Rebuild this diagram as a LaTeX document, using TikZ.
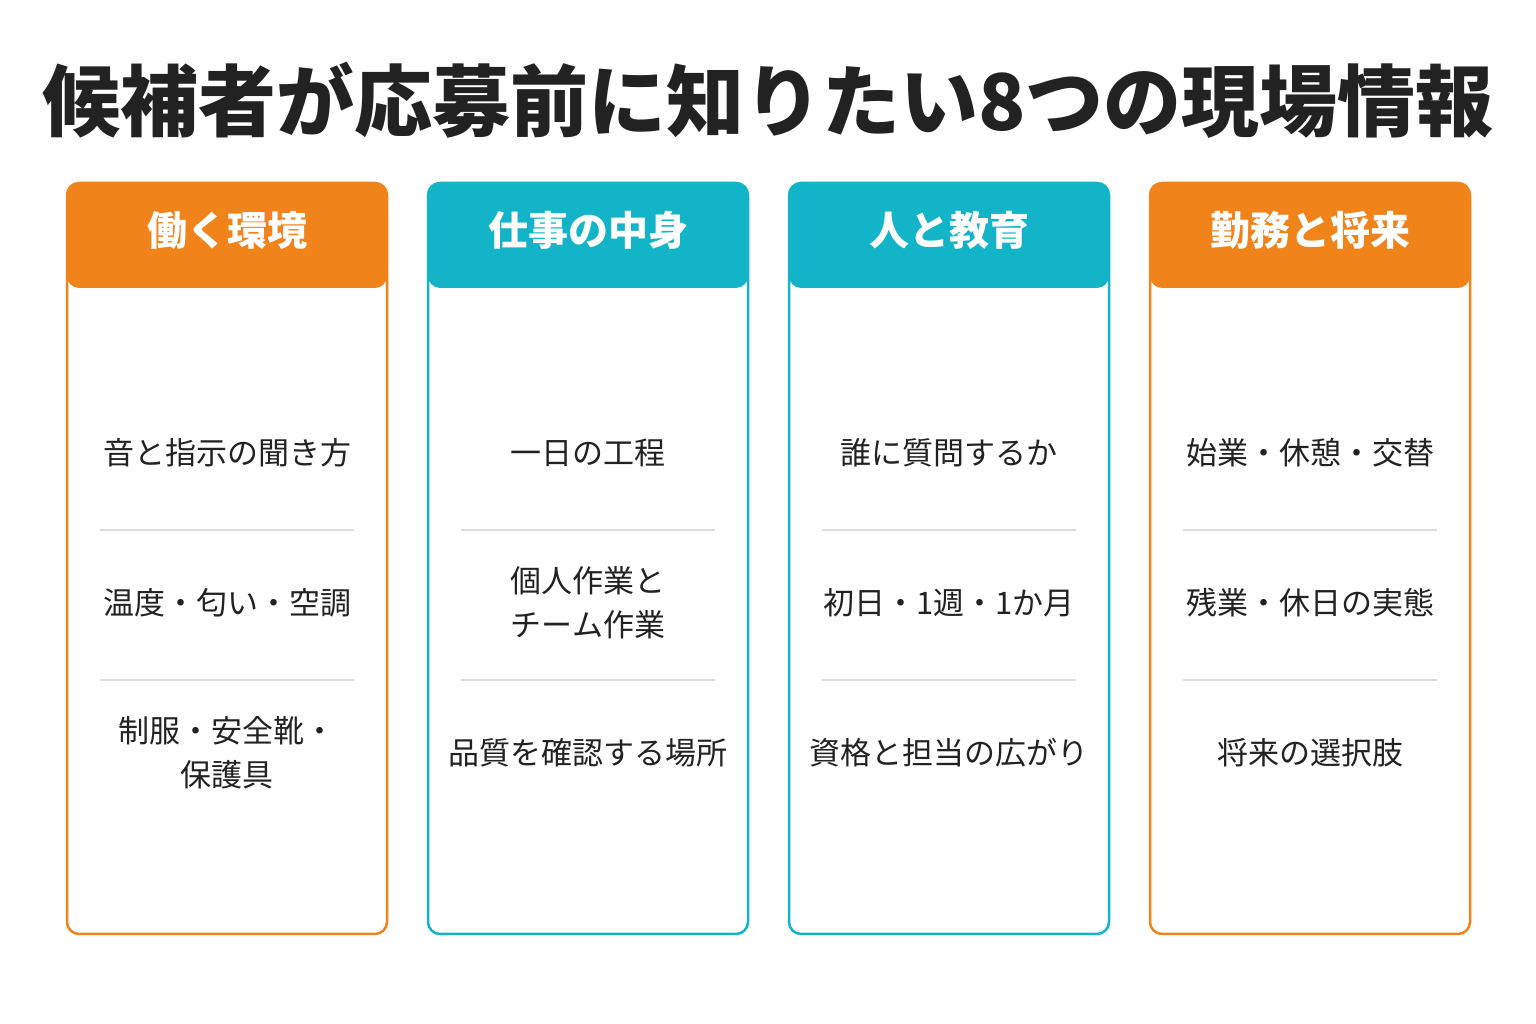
\documentclass[tikz,border=0pt]{standalone}
\usepackage{fontspec}
\setmainfont{Noto Sans CJK JP}
\definecolor{orangeH}{HTML}{F0831A}
\definecolor{tealH}{HTML}{14B4C8}
\definecolor{lineG}{HTML}{DDDDDD}
\definecolor{textD}{HTML}{222222}
\tikzset{
  card/.style={draw=#1, line width=2.5pt, rounded corners=12pt, fill=white},
  head/.style={fill=#1, rounded corners=12pt},
  headtext/.style={text=white, font=\fontsize{40}{48}\selectfont\bfseries},
  item/.style={text=textD, align=center, font=\fontsize{31}{44}\selectfont},
  sep/.style={draw=lineG, line width=1.5pt}
}
\begin{document}
\begin{tikzpicture}[x=1pt,y=1pt]
  \useasboundingbox (0,0) rectangle (1536,1024);
  \node[text=textD, font=\fontsize{78}{90}\selectfont\bfseries] (title) at (768,924) {候補者が応募前に知りたい8つの現場情報};
  \foreach \i/\x/\c/\h/\a/\b/\d in {
    1/67/orangeH/働く環境/音と指示の聞き方/温度・匂い・空調/{制服・安全靴・\\保護具},
    2/428/tealH/仕事の中身/一日の工程/{個人作業と\\チーム作業}/品質を確認する場所,
    3/789/tealH/人と教育/誰に質問するか/初日・1週・1か月/資格と担当の広がり,
    4/1150/orangeH/勤務と将来/始業・休憩・交替/残業・休日の実態/将来の選択肢} {
    \draw[card=\c] (\x,90) rectangle ++(320,751);
    \fill[head=\c] (\x,736) rectangle ++(320,105);
    \node[headtext] (h\i) at (\x+160,794) {\h};
    \node[item] (a\i) at (\x+160,571) {\a};
    \node[item] (b\i) at (\x+160,421) {\b};
    \node[item] (d\i) at (\x+160,271) {\d};
    \coordinate (s\i l) at (\x+33,494);
    \coordinate (s\i r) at (\x+287,494);
    \coordinate (t\i l) at (\x+33,344);
    \coordinate (t\i r) at (\x+287,344);
    \draw[sep] (s\i l) -- (s\i r);
    \draw[sep] (t\i l) -- (t\i r);
  }
\end{tikzpicture}
\end{document}
